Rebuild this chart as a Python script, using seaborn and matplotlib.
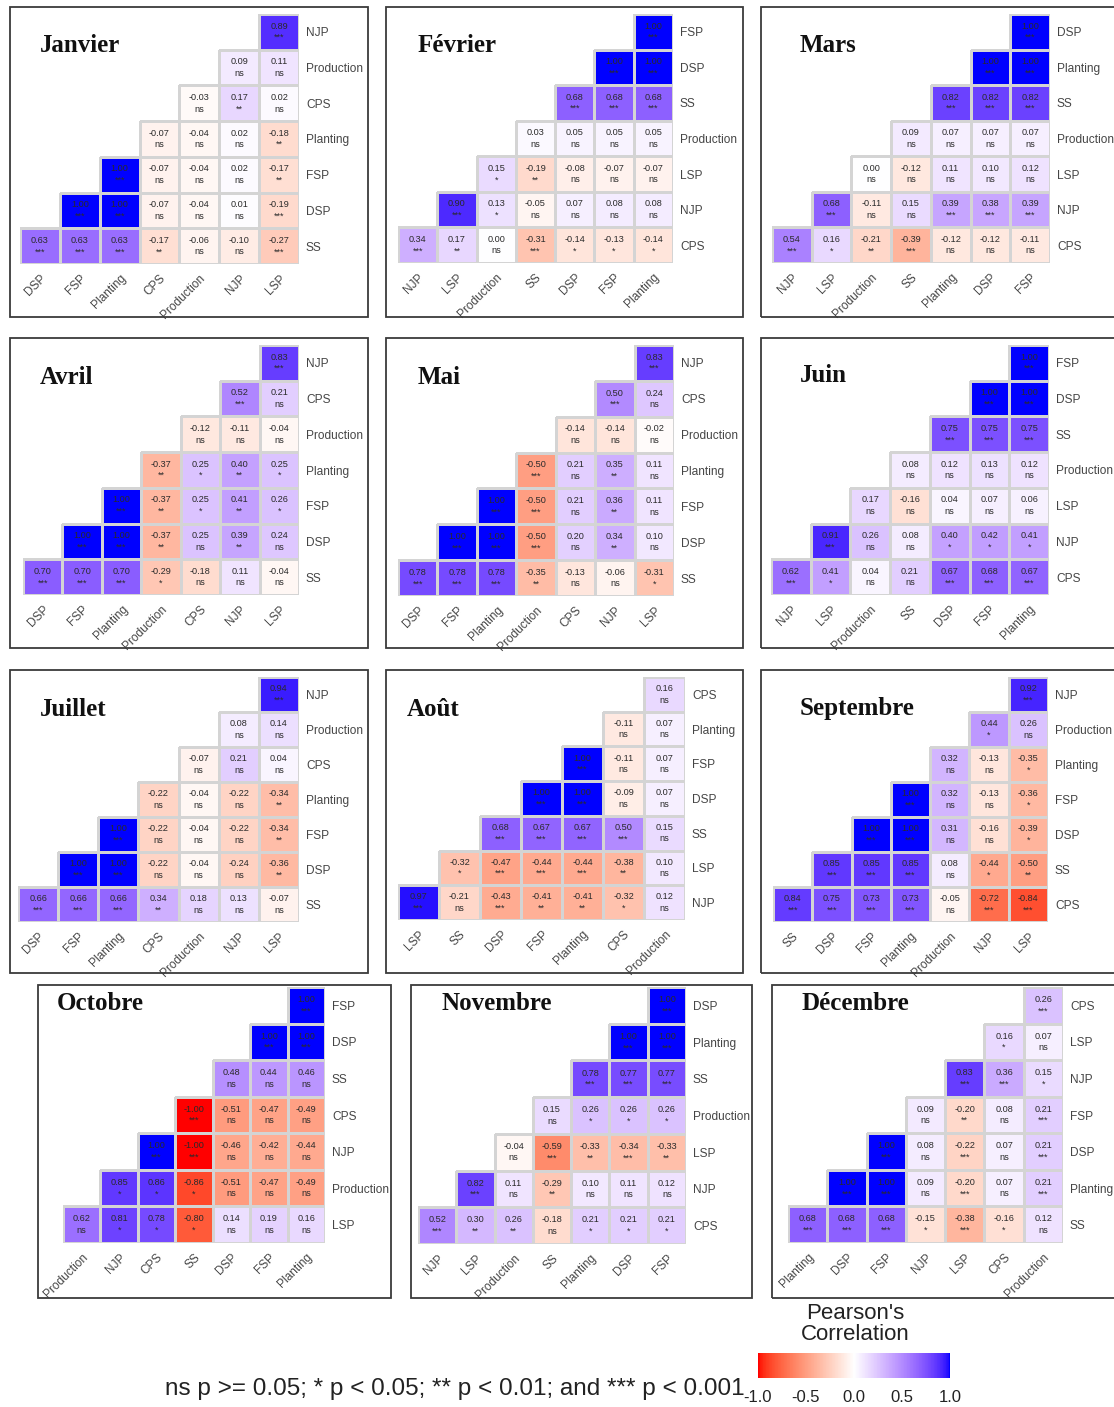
import numpy as np
import pandas as pd
import matplotlib
matplotlib.use("Agg")
import matplotlib.pyplot as plt
import seaborn as sns
from matplotlib.colors import ListedColormap, Normalize, to_rgba
from matplotlib.patches import Rectangle
from matplotlib.cm import ScalarMappable

sns.set_style("white")
plt.rcParams['font.family'] = ['Liberation Sans', 'DejaVu Sans']

# ---------------- DATA ----------------
jan_cols = ["DSP", "FSP", "Planting", "CPS", "Production", "NJP", "LSP"]
jan_rows = ["NJP", "Production", "CPS", "Planting", "FSP", "DSP", "SS"]
jan_r = [[0.89], [0.09, 0.11], [-0.03, 0.17, 0.02], [-0.07, -0.04, 0.02, -0.18],
         [1.00, -0.07, -0.04, 0.02, -0.17], [1.00, 1.00, -0.07, -0.04, 0.01, -0.19],
         [0.63, 0.63, 0.63, -0.17, -0.06, -0.10, -0.27]]
jan_sig = [["***"], ["ns", "ns"], ["ns", "**", "ns"], ["ns", "ns", "ns", "**"],
           ["***", "ns", "ns", "ns", "**"], ["***", "***", "ns", "ns", "ns", "***"],
           ["***", "***", "***", "**", "ns", "ns", "***"]]

feb_cols = ["NJP", "LSP", "Production", "SS", "DSP", "FSP", "Planting"]
feb_rows = ["FSP", "DSP", "SS", "Production", "LSP", "NJP", "CPS"]
feb_r = [[1.00], [1.00, 1.00], [0.68, 0.68, 0.68], [0.03, 0.05, 0.05, 0.05],
         [0.15, -0.19, -0.08, -0.07, -0.07], [0.90, 0.13, -0.05, 0.07, 0.08, 0.08],
         [0.34, 0.17, 0.00, -0.31, -0.14, -0.13, -0.14]]
feb_sig = [["***"], ["***", "***"], ["***", "***", "***"], ["ns", "ns", "ns", "ns"],
           ["*", "**", "ns", "ns", "ns"], ["***", "*", "ns", "ns", "ns", "ns"],
           ["***", "**", "ns", "***", "*", "*", "*"]]

mar_cols = ["NJP", "LSP", "Production", "SS", "Planting", "DSP", "FSP"]
mar_rows = ["DSP", "Planting", "SS", "Production", "LSP", "NJP", "CPS"]
mar_r = [[1.00], [1.00, 1.00], [0.82, 0.82, 0.82], [0.09, 0.07, 0.07, 0.07],
         [0.00, -0.12, 0.11, 0.10, 0.12], [0.68, -0.11, 0.15, 0.39, 0.38, 0.39],
         [0.54, 0.16, -0.21, -0.39, -0.12, -0.12, -0.11]]
mar_sig = [["***"], ["***", "***"], ["***", "***", "***"], ["ns", "ns", "ns", "ns"],
           ["ns", "ns", "ns", "ns", "ns"], ["***", "ns", "ns", "***", "***", "***"],
           ["***", "*", "**", "***", "ns", "ns", "ns"]]

apr_cols = ["DSP", "FSP", "Planting", "Production", "CPS", "NJP", "LSP"]
apr_rows = ["NJP", "CPS", "Production", "Planting", "FSP", "DSP", "SS"]
apr_r = [[0.83], [0.52, 0.21], [-0.12, -0.11, -0.04], [-0.37, 0.25, 0.40, 0.25],
         [1.00, -0.37, 0.25, 0.41, 0.26], [1.00, 1.00, -0.37, 0.25, 0.39, 0.24],
         [0.70, 0.70, 0.70, -0.29, -0.18, 0.11, -0.04]]
apr_sig = [["***"], ["***", "ns"], ["ns", "ns", "ns"], ["**", "*", "**", "*"],
           ["***", "**", "*", "**", "*"], ["***", "***", "**", "ns", "**", "ns"],
           ["***", "***", "***", "*", "ns", "ns", "ns"]]

may_cols = ["DSP", "FSP", "Planting", "Production", "CPS", "NJP", "LSP"]
may_rows = ["NJP", "CPS", "Production", "Planting", "FSP", "DSP", "SS"]
may_r = [[0.83], [0.50, 0.24], [-0.14, -0.14, -0.02], [-0.50, 0.21, 0.35, 0.11],
         [1.00, -0.50, 0.21, 0.36, 0.11], [1.00, 1.00, -0.50, 0.20, 0.34, 0.10],
         [0.78, 0.78, 0.78, -0.35, -0.13, -0.06, -0.31]]
may_sig = [["***"], ["***", "ns"], ["ns", "ns", "ns"], ["***", "ns", "**", "ns"],
           ["***", "***", "ns", "**", "ns"], ["***", "***", "***", "ns", "**", "ns"],
           ["***", "***", "***", "**", "ns", "ns", "*"]]

jun_cols = ["NJP", "LSP", "Production", "SS", "DSP", "FSP", "Planting"]
jun_rows = ["FSP", "DSP", "SS", "Production", "LSP", "NJP", "CPS"]
jun_r = [[1.00], [1.00, 1.00], [0.75, 0.75, 0.75], [0.08, 0.12, 0.13, 0.12],
         [0.17, -0.16, 0.04, 0.07, 0.06], [0.91, 0.26, 0.08, 0.40, 0.42, 0.41],
         [0.62, 0.41, 0.04, 0.21, 0.67, 0.68, 0.67]]
jun_sig = [["***"], ["***", "***"], ["***", "***", "***"], ["ns", "ns", "ns", "ns"],
           ["ns", "ns", "ns", "ns", "ns"], ["***", "ns", "ns", "*", "*", "*"],
           ["***", "*", "ns", "ns", "***", "***", "***"]]

jul_cols = ["DSP", "FSP", "Planting", "CPS", "Production", "NJP", "LSP"]
jul_rows = ["NJP", "Production", "CPS", "Planting", "FSP", "DSP", "SS"]
jul_r = [[0.94], [0.08, 0.14], [-0.07, 0.21, 0.04], [-0.22, -0.04, -0.22, -0.34],
         [1.00, -0.22, -0.04, -0.22, -0.34], [1.00, 1.00, -0.22, -0.04, -0.24, -0.36],
         [0.66, 0.66, 0.66, 0.34, 0.18, 0.13, -0.07]]
jul_sig = [["***"], ["ns", "ns"], ["ns", "ns", "ns"], ["ns", "ns", "ns", "**"],
           ["***", "ns", "ns", "ns", "**"], ["***", "***", "ns", "ns", "ns", "**"],
           ["***", "***", "***", "**", "ns", "ns", "ns"]]

aug_cols = ["LSP", "SS", "DSP", "FSP", "Planting", "CPS", "Production"]
aug_rows = ["CPS", "Planting", "FSP", "DSP", "SS", "LSP", "NJP"]
aug_r = [[0.16], [-0.11, 0.07], [1.00, -0.11, 0.07], [1.00, 1.00, -0.09, 0.07],
         [0.68, 0.67, 0.67, 0.50, 0.15], [-0.32, -0.47, -0.44, -0.44, -0.38, 0.10],
         [0.97, -0.21, -0.43, -0.41, -0.41, -0.32, 0.12]]
aug_sig = [["ns"], ["ns", "ns"], ["***", "ns", "ns"], ["***", "***", "ns", "ns"],
           ["***", "***", "***", "***", "ns"], ["*", "***", "***", "***", "**", "ns"],
           ["***", "ns", "***", "**", "**", "*", "ns"]]

sep_cols = ["SS", "DSP", "FSP", "Planting", "Production", "NJP", "LSP"]
sep_rows = ["NJP", "Production", "Planting", "FSP", "DSP", "SS", "CPS"]
sep_r = [[0.92], [0.44, 0.26], [0.32, -0.13, -0.35], [1.00, 0.32, -0.13, -0.36],
         [1.00, 1.00, 0.31, -0.16, -0.39], [0.85, 0.85, 0.85, 0.08, -0.44, -0.50],
         [0.84, 0.75, 0.73, 0.73, -0.05, -0.72, -0.84]]
sep_sig = [["***"], ["*", "ns"], ["ns", "ns", "*"], ["***", "ns", "ns", "*"],
           ["***", "***", "ns", "ns", "*"], ["***", "***", "***", "ns", "*", "**"],
           ["***", "***", "***", "***", "ns", "***", "***"]]

oct_cols = ["Production", "NJP", "CPS", "SS", "DSP", "FSP", "Planting"]
oct_rows = ["FSP", "DSP", "SS", "CPS", "NJP", "Production", "LSP"]
oct_r = [[1.00], [1.00, 1.00], [0.48, 0.44, 0.46], [-1.00, -0.51, -0.47, -0.49],
         [1.00, -1.00, -0.46, -0.42, -0.44], [0.85, 0.86, -0.86, -0.51, -0.47, -0.49],
         [0.62, 0.81, 0.78, -0.80, 0.14, 0.19, 0.16]]
oct_sig = [["***"], ["***", "***"], ["ns", "ns", "ns"], ["***", "ns", "ns", "ns"],
           ["***", "***", "ns", "ns", "ns"], ["*", "*", "*", "ns", "ns", "ns"],
           ["ns", "*", "*", "*", "ns", "ns", "ns"]]

nov_cols = ["NJP", "LSP", "Production", "SS", "Planting", "DSP", "FSP"]
nov_rows = ["DSP", "Planting", "SS", "Production", "LSP", "NJP", "CPS"]
nov_r = [[1.00], [1.00, 1.00], [0.78, 0.77, 0.77], [0.15, 0.26, 0.26, 0.26],
         [-0.04, -0.59, -0.33, -0.34, -0.33], [0.82, 0.11, -0.29, 0.10, 0.11, 0.12],
         [0.52, 0.30, 0.26, -0.18, 0.21, 0.21, 0.21]]
nov_sig = [["***"], ["***", "***"], ["***", "***", "***"], ["ns", "*", "*", "*"],
           ["ns", "***", "**", "***", "**"], ["***", "ns", "**", "ns", "ns", "ns"],
           ["***", "**", "**", "ns", "*", "*", "*"]]

dec_cols = ["Planting", "DSP", "FSP", "NJP", "LSP", "CPS", "Production"]
dec_rows = ["CPS", "LSP", "NJP", "FSP", "DSP", "Planting", "SS"]
dec_r = [[0.26], [0.16, 0.07], [0.83, 0.36, 0.15], [0.09, -0.20, 0.08, 0.21],
         [1.00, 0.08, -0.22, 0.07, 0.21], [1.00, 1.00, 0.09, -0.20, 0.07, 0.21],
         [0.68, 0.68, 0.68, -0.15, -0.38, -0.16, 0.12]]
dec_sig = [["***"], ["*", "ns"], ["***", "***", "*"], ["ns", "**", "ns", "***"],
           ["***", "ns", "***", "ns", "***"], ["***", "***", "ns", "***", "ns", "***"],
           ["***", "***", "***", "*", "***", "*", "ns"]]

month_names = ["Janvier", "Février", "Mars", "Avril", "Mai", "Juin",
               "Juillet", "Août", "Septembre", "Octobre", "Novembre", "Décembre"]
legend_ticks = [-1.0, -0.5, 0.0, 0.5, 1.0]
footnote = "ns p >= 0.05; * p < 0.05; ** p < 0.01; and *** p < 0.001"

months = [
    (jan_cols, jan_rows, jan_r, jan_sig), (feb_cols, feb_rows, feb_r, feb_sig),
    (mar_cols, mar_rows, mar_r, mar_sig), (apr_cols, apr_rows, apr_r, apr_sig),
    (may_cols, may_rows, may_r, may_sig), (jun_cols, jun_rows, jun_r, jun_sig),
    (jul_cols, jul_rows, jul_r, jul_sig), (aug_cols, aug_rows, aug_r, aug_sig),
    (sep_cols, sep_rows, sep_r, sep_sig), (oct_cols, oct_rows, oct_r, oct_sig),
    (nov_cols, nov_rows, nov_r, nov_sig), (dec_cols, dec_rows, dec_r, dec_sig),
]

# ---------------- LAYOUT (pixels) ----------------
W, H = 1114, 1407
panel_boxes = [  # x0, y0, x1, y1
    (10, 7, 368, 317), (386, 7, 743, 317), (761, 7, 1120, 317),
    (10, 338, 368, 648), (386, 338, 743, 648), (761, 338, 1120, 648),
    (10, 670, 368, 973), (386, 670, 743, 973), (761, 670, 1120, 973),
    (38, 985, 391, 1298), (411, 985, 752, 1298), (772, 985, 1120, 1298),
]
grid_boxes = [
    (20, 14, 299, 264), (398, 14, 673, 263), (772, 14, 1050, 263),
    (23, 345, 299, 595), (398, 345, 674, 596), (771, 345, 1049, 595),
    (18, 677, 299, 922), (398, 677, 685, 920), (773, 677, 1048, 922),
    (63, 987, 325, 1243), (418, 987, 686, 1244), (788, 987, 1063, 1243),
]
title_pos = [
    (40, 45), (418, 45), (800, 45), (40, 377), (418, 377), (800, 375),
    (40, 709), (407, 709), (800, 709), (57, 1004), (441, 1004), (802, 1004),
]


# ---------------- COLORMAP (Lab interpolation like ggplot) ----------------
def _lin(c):
    c = np.asarray(c, float)
    return np.where(c <= 0.04045, c / 12.92, ((c + 0.055) / 1.055) ** 2.4)


def _gam(c):
    c = np.clip(c, 0, 1)
    return np.where(c <= 0.0031308, 12.92 * c, 1.055 * c ** (1 / 2.4) - 0.055)


_M = np.array([[0.4124, 0.3576, 0.1805], [0.2126, 0.7152, 0.0722], [0.0193, 0.1192, 0.9505]])
_Mi = np.linalg.inv(_M)
_WP = np.array([0.95047, 1.0, 1.08883])
_d = 6 / 29


def rgb2lab(rgb):
    xyz = _M @ _lin(rgb) / _WP
    f = np.where(xyz > _d ** 3, np.cbrt(xyz), xyz / (3 * _d ** 2) + 4 / 29)
    return np.array([116 * f[1] - 16, 500 * (f[0] - f[1]), 200 * (f[1] - f[2])])


def lab2rgb(lab):
    fy = (lab[0] + 16) / 116
    f = np.array([fy + lab[1] / 500, fy, fy - lab[2] / 200])
    xyz = np.where(f > _d, f ** 3, 3 * _d ** 2 * (f - 4 / 29)) * _WP
    return _gam(_Mi @ xyz)


lab_lo = rgb2lab([1, 0, 0])
lab_mid = rgb2lab([1, 1, 1])
lab_hi = rgb2lab([0, 0, 1])
cols_list = []
for v in np.linspace(-1, 1, 256):
    if v < 0:
        lab = lab_mid + (-v) * (lab_lo - lab_mid)
    else:
        lab = lab_mid + v * (lab_hi - lab_mid)
    cols_list.append(lab2rgb(lab))
cmap = ListedColormap(cols_list)

# ---------------- FIGURE ----------------
fig = plt.figure(figsize=(W / 100, H / 100), dpi=100)
fig.patch.set_facecolor("white")


def fax(box):
    x0, y0, x1, y1 = box
    return [x0 / W, 1 - y1 / H, (x1 - x0) / W, (y1 - y0) / H]


edge_rgba = np.array(to_rgba("#D4D4D4"))
none_rgba = np.array([1.0, 1.0, 1.0, 0.0])

for k, (cols, rows, rvals, sigs) in enumerate(months):
    n = len(cols)
    mat = np.full((n, n), np.nan)
    ann = np.full((n, n), "", dtype=object)
    for i in range(n):
        start = n - 1 - i
        for j, (v, s) in enumerate(zip(rvals[i], sigs[i])):
            mat[i, start + j] = v
            ann[i, start + j] = f"{v:.2f}\n{s}"
    df = pd.DataFrame(mat, index=rows, columns=cols)

    # panel border
    x0, y0, x1, y1 = panel_boxes[k]
    fig.add_artist(Rectangle((x0 / W, 1 - y1 / H), (x1 - x0) / W, (y1 - y0) / H,
                             transform=fig.transFigure, fill=False,
                             ec="#3a3a3a", lw=1.3))

    ax = fig.add_axes(fax(grid_boxes[k]))
    sns.heatmap(df, ax=ax, cmap=cmap, vmin=-1, vmax=1, cbar=False,
                linewidths=0.9, linecolor="#D4D4D4", annot=ann, fmt="",
                annot_kws=dict(fontsize=6.6, color="#2a2a2a", linespacing=1.35))
    # hide outlines of empty (masked) cells
    mesh = ax.collections[0]
    ecs = np.array([edge_rgba if not np.isnan(v) else none_rgba for v in mat.ravel()])
    mesh.set_edgecolors(ecs)

    ax.yaxis.tick_right()
    ax.set_yticks(np.arange(n) + 0.5)
    ax.set_yticklabels(rows, rotation=0, fontsize=8.6, color="#454545")
    ax.set_xticks(np.arange(n) + 0.5)
    ax.set_xticklabels(cols, rotation=45, ha="right", va="top",
                       rotation_mode="anchor", fontsize=8.6, color="#454545")
    ax.tick_params(axis="both", length=0)
    ax.tick_params(axis="y", pad=5)
    ax.tick_params(axis="x", pad=6)
    ax.set_xlabel("")
    ax.set_ylabel("")
    ax.set_facecolor("none")
    for sp in ax.spines.values():
        sp.set_visible(False)

    tx, ty = title_pos[k]
    fig.text(tx / W, 1 - ty / H, month_names[k], ha="left", va="center",
             fontsize=18, fontweight="bold", family=["Liberation Serif", "DejaVu Serif"],
             color="#111111")

# ---------------- LEGEND ----------------
cax = fig.add_axes(fax((758, 1353, 950, 1378)))
sm = ScalarMappable(norm=Normalize(-1, 1), cmap=cmap)
cb = fig.colorbar(sm, cax=cax, orientation="horizontal")
cb.outline.set_visible(False)
cb.set_ticks(legend_ticks)
cb.set_ticklabels([f"{t:.1f}" for t in legend_ticks])
cax.tick_params(length=0, labelsize=12, pad=9, colors="#222222")

fig.text(855 / W, 1 - 1324 / H, "Pearson's\nCorrelation", ha="center", va="center",
         fontsize=16, linespacing=1.0, color="#222222")
fig.text(165 / W, 1 - 1389 / H, footnote, ha="left", va="center",
         fontsize=17.5, color="#222222")

fig.savefig("out.png", dpi=100, facecolor="white")
